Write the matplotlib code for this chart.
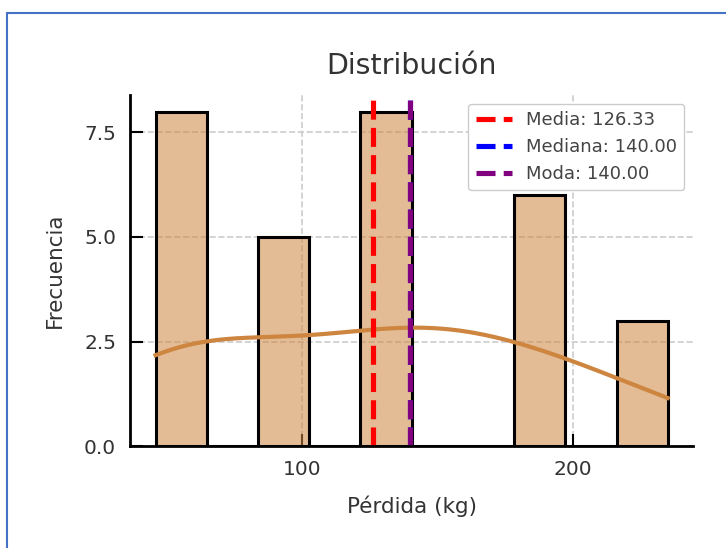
import matplotlib
matplotlib.use("Agg")
import matplotlib.pyplot as plt
import seaborn as sns
import numpy as np
from matplotlib.patches import Rectangle

perdidas = [46, 47, 48, 50, 50, 52, 53, 55,
            85, 90, 95, 99, 100,
            140, 140, 140, 140, 140, 140, 140, 140,
            180, 180, 185, 185, 190, 190,
            225, 230, 235]
n_bins = 10

media = np.mean(perdidas)
mediana = np.median(perdidas)
vals, cnts = np.unique(perdidas, return_counts=True)
moda = vals[np.argmax(cnts)]

fig = plt.figure(figsize=(7.26, 5.48), dpi=100)
ax = fig.add_axes([0.179, 0.186, 0.776, 0.641])

sns.histplot(perdidas, bins=n_bins, kde=True, color='peru', alpha=0.55,
             edgecolor='black', linewidth=2.2, ax=ax,
             kde_kws={'bw_adjust': 1.15},
             line_kws={'linewidth': 3})
ax.axvline(media, color='red', linestyle='--', linewidth=3.7, label=f'Media: {media:.2f}')
ax.axvline(mediana, color='blue', linestyle='--', linewidth=3.7, label=f'Mediana: {mediana:.2f}')
ax.axvline(moda, color='purple', linestyle='--', linewidth=3.7, label=f'Moda: {moda:.2f}')

ax.set_title('Distribución', fontsize=20.5, color='#333333', pad=15)
ax.set_xlabel('Pérdida (kg)', fontsize=15.5, color='#333333', labelpad=12)
ax.set_ylabel('Frecuencia', fontsize=15.5, color='#333333', labelpad=14)
ax.set_yticks([0, 2.5, 5.0, 7.5])
ax.set_xticks([100, 200])
ax.tick_params(direction='in', length=9, width=1.5, labelsize=14.5,
               labelcolor='#333333', pad=10)
ax.grid(True, linestyle='--', color='#cccccc', linewidth=1.2)
ax.set_axisbelow(True)
for s in ['top', 'right']:
    ax.spines[s].set_visible(False)
for s in ['left', 'bottom']:
    ax.spines[s].set_linewidth(2)

leg = ax.legend(loc='upper right', fontsize=13, framealpha=1)
for t in leg.get_texts():
    t.set_color('#444444')

# marco azul de la captura
fig.patches.append(Rectangle((0.009, -0.05), 1.1, 1.026, transform=fig.transFigure,
                             fill=False, edgecolor='#4472c4', linewidth=1.5))

fig.savefig('out.png', dpi=100)
